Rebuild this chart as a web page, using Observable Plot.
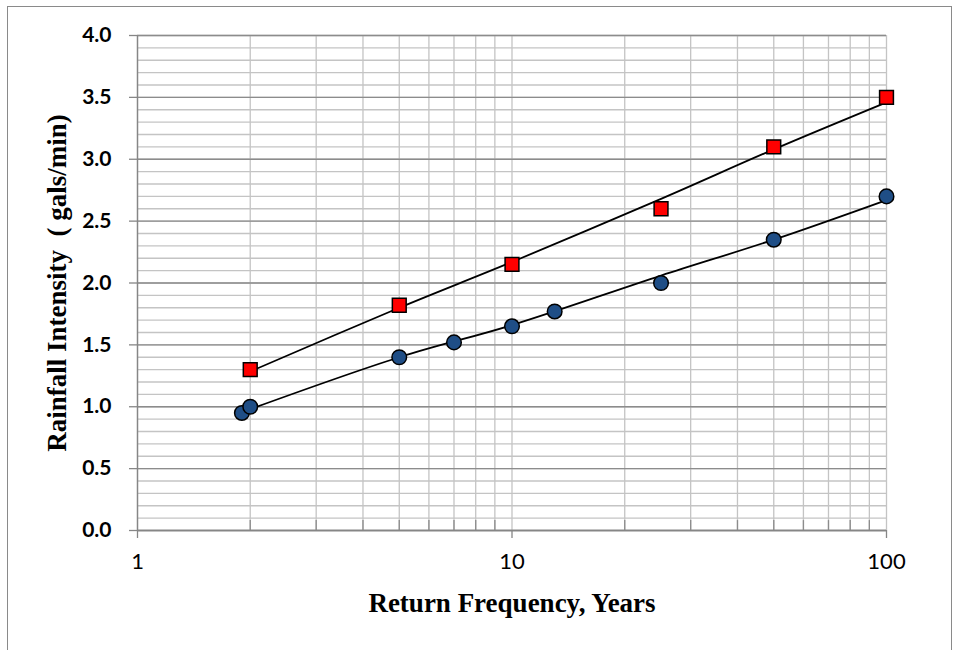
<!DOCTYPE html>
<html>
<head>
<meta charset="utf-8">
<script src="https://cdn.jsdelivr.net/npm/d3@7"></script>
<script src="https://cdn.jsdelivr.net/npm/@observablehq/plot@0.6"></script>
<style>
  html, body { margin: 0; padding: 0; background: #fff; overflow: hidden; }
  #wrap { position: relative; width: 956px; height: 650px; }
  #frame { position: absolute; left: 7px; top: 6px; width: 945px; height: 700px; border: 1.5px solid #8a8a8a; box-sizing: border-box; pointer-events: none; }
  #chart { position: absolute; left: 0; top: 0; }
</style>
</head>
<body>
<div id="wrap"><div id="chart"></div><div id="frame"></div></div>
<script>
// Observed data
const redYears = [2, 5, 10, 25, 50, 100];
const redIntensity = [1.3, 1.82, 2.15, 2.6, 3.1, 3.5];
const blueYears = [1.9, 2, 5, 7, 10, 13, 25, 50, 100];
const blueIntensity = [0.95, 1.0, 1.4, 1.52, 1.65, 1.77, 2.0, 2.35, 2.7];
// Trend lines
const redFitYears = [2, 5, 10, 25, 50, 100];
const redFitIntensity = [1.285, 1.80, 2.17, 2.68, 3.08, 3.46];
const blueFitYears = [1.9, 5, 10, 25, 50, 100];
const blueFitIntensity = [0.956, 1.40, 1.66, 2.06, 2.35, 2.67];
// Ticks and grid
const yMajorTicks = [0, 0.5, 1.0, 1.5, 2.0, 2.5, 3.0, 3.5, 4.0];
const yMinorTicks = d3.range(0, 41).map(i => i / 10);
const xMajorTicks = [1, 10, 100];
const xMinorTicks = [2, 3, 4, 5, 6, 7, 8, 9, 20, 30, 40, 50, 60, 70, 80, 90];
const xGrid = [2, 3, 4, 5, 6, 7, 8, 9, 10, 20, 30, 40, 50, 60, 70, 80, 90, 100];
const xTitle = "Return Frequency, Years";
const yTitle = "Rainfall Intensity  ( gals/min)";

const red = redYears.map((x, i) => ({x, y: redIntensity[i]}));
const blue = blueYears.map((x, i) => ({x, y: blueIntensity[i]}));
const redFit = redFitYears.map((x, i) => ({x, y: redFitIntensity[i]}));
const blueFit = blueFitYears.map((x, i) => ({x, y: blueFitIntensity[i]}));

const sans = "Lato, 'Open Sans', 'Liberation Sans', sans-serif";
const serif = "'Liberation Serif', 'DejaVu Serif', serif";

const chart = Plot.plot({
  width: 956,
  height: 650,
  marginLeft: 137,
  marginRight: 70,
  marginTop: 35,
  marginBottom: 120,
  style: {background: "transparent", overflow: "visible"},
  x: {type: "log", domain: [1, 100]},
  y: {domain: [0, 4]},
  marks: [
    Plot.ruleY(yMinorTicks, {stroke: "#c4c4c4", strokeWidth: 1.3}),
    Plot.ruleX(xGrid, {stroke: "#c4c4c4", strokeWidth: 1.3}),
    Plot.ruleY(yMajorTicks, {stroke: "#8c8c8c", strokeWidth: 1.3}),
    Plot.ruleX(xMinorTicks, {y1: 0, y2: 0.08, stroke: "#8c8c8c", strokeWidth: 1.3}),
    Plot.ruleX([1], {stroke: "#868686", strokeWidth: 1.5}),
    Plot.ruleY([0], {stroke: "#868686", strokeWidth: 1.5}),
    Plot.axisY(yMajorTicks, {
      tickSize: 8, tickPadding: 18, stroke: "#868686", strokeWidth: 1.3,
      tickFormat: d3.format(".1f"), fontSize: 21, fontWeight: "bold",
      fontFamily: sans, fill: "#000", label: null
    }),
    Plot.axisX(xMajorTicks, {
      tickSize: 8, tickPadding: 15, stroke: "#868686", strokeWidth: 1.3,
      tickFormat: d => String(d), fontSize: 22, fontFamily: sans, fill: "#000", label: null
    }),
    Plot.line(redFit, {x: "x", y: "y", stroke: "#000", strokeWidth: 1.8, curve: "catmull-rom"}),
    Plot.line(blueFit, {x: "x", y: "y", stroke: "#000", strokeWidth: 1.8, curve: "catmull-rom"}),
    Plot.dot(red, {x: "x", y: "y", symbol: "square", r: 7.8, fill: "#ff0000", stroke: "#000", strokeWidth: 1.5}),
    Plot.dot(blue, {x: "x", y: "y", symbol: "circle", r: 7.3, fill: "#1f4e86", stroke: "#000", strokeWidth: 1.5}),
    Plot.text([xTitle], {frameAnchor: "bottom", dy: 81, text: d => d, fontFamily: serif, fontWeight: "bold", fontSize: 27, fill: "#000"}),
    Plot.text([yTitle], {frameAnchor: "left", dx: -80, rotate: -90, textAnchor: "middle", text: d => d, fontFamily: serif, fontWeight: "bold", fontSize: 27, fill: "#000"})
  ]
});
document.getElementById("chart").appendChild(chart);
</script>
</body>
</html>
